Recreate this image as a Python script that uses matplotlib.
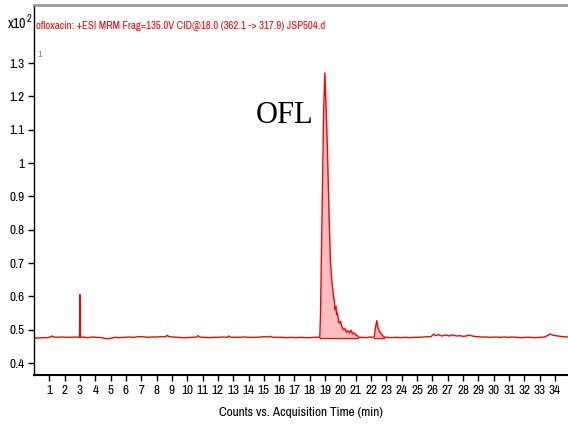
import matplotlib
matplotlib.use("Agg")
import matplotlib.pyplot as plt
import numpy as np

# retention time (min) and counts (x10^2)
time_min = [
    0.0, 0.3, 0.6, 0.9, 1.1, 1.2, 1.3, 1.5, 1.8, 2.1, 2.4, 2.7, 2.97, 3.0, 3.03,
    3.2, 3.5, 3.8, 4.1, 4.4, 4.7, 5.0, 5.3, 5.6, 5.9, 6.2, 6.5, 6.8, 7.1, 7.4,
    7.7, 8.0, 8.3, 8.6, 8.7, 8.8, 9.1, 9.4, 9.7, 10.0, 10.3, 10.6, 10.7, 10.8,
    11.1, 11.4, 11.7, 12.0, 12.3, 12.6, 12.7, 12.8, 13.1, 13.4, 13.7, 14.0, 14.3,
    14.6, 14.8, 15.0, 15.3, 15.4, 15.6, 15.9, 16.2, 16.5, 16.8, 17.1, 17.4, 17.7,
    18.0, 18.3, 18.6, 18.65, 18.7, 18.8, 18.9, 18.98, 19.05, 19.15, 19.25, 19.35,
    19.45, 19.55, 19.6, 19.65, 19.7, 19.75, 19.8, 19.9, 20.0, 20.1, 20.2, 20.3,
    20.4, 20.5, 20.6, 20.7, 20.8, 20.9, 21.0, 21.1, 21.2, 21.4, 21.7, 21.9, 22.1,
    22.2, 22.3, 22.37, 22.45, 22.55, 22.7, 22.85, 23.0, 23.3, 23.6, 23.9, 24.2,
    24.5, 24.8, 25.1, 25.4, 25.7, 25.9, 26.1, 26.2, 26.4, 26.6, 26.9, 27.1, 27.3,
    27.6, 27.8, 28.0, 28.2, 28.4, 28.6, 28.9, 29.2, 29.5, 29.8, 30.1, 30.4, 30.7,
    31.0, 31.2, 31.5, 31.8, 32.1, 32.4, 32.7, 33.0, 33.3, 33.5, 33.7, 33.9, 34.2,
    34.5, 34.85,
]
counts = [
    0.475, 0.475, 0.476, 0.476, 0.479, 0.481, 0.478, 0.477, 0.478, 0.477, 0.477, 0.478, 0.477, 0.605, 0.477,
    0.478, 0.476, 0.478, 0.477, 0.476, 0.473, 0.474, 0.477, 0.476, 0.477, 0.478, 0.477, 0.479, 0.479, 0.477,
    0.478, 0.478, 0.479, 0.479, 0.483, 0.479, 0.478, 0.477, 0.476, 0.476, 0.477, 0.478, 0.482, 0.478,
    0.477, 0.476, 0.477, 0.477, 0.478, 0.477, 0.481, 0.478, 0.477, 0.477, 0.478, 0.477, 0.477,
    0.477, 0.478, 0.479, 0.478, 0.480, 0.477, 0.477, 0.477, 0.476, 0.477, 0.476, 0.477, 0.476,
    0.476, 0.477, 0.477, 0.476, 0.55, 0.85, 1.15, 1.27, 1.18, 1.04, 0.85, 0.70,
    0.64, 0.60, 0.585, 0.56, 0.57, 0.545, 0.55, 0.52, 0.525, 0.508, 0.50, 0.503,
    0.492, 0.497, 0.49, 0.498, 0.487, 0.49, 0.484, 0.482, 0.477, 0.477, 0.476, 0.478, 0.477,
    0.478, 0.51, 0.527, 0.505, 0.495, 0.485, 0.478, 0.477, 0.476, 0.477, 0.476, 0.477,
    0.476, 0.477, 0.477, 0.478, 0.479, 0.479, 0.487, 0.482, 0.485, 0.481, 0.484, 0.481, 0.484,
    0.481, 0.482, 0.480, 0.481, 0.484, 0.481, 0.479, 0.478, 0.478, 0.477, 0.478, 0.477, 0.478,
    0.477, 0.478, 0.477, 0.476, 0.477, 0.477, 0.476, 0.477, 0.478, 0.482, 0.487, 0.483, 0.481,
    0.479, 0.478,
]
peaks = [(18.65, 21.15), (22.2, 22.85)]
integ_base = 0.476
x_ticks = list(range(1, 35))
y_ticks = [0.4, 0.5, 0.6, 0.7, 0.8, 0.9, 1.0, 1.1, 1.2, 1.3]

narrow = ['Archivo Narrow', 'PT Sans Narrow', 'Liberation Sans', 'DejaVu Sans']
t = np.array(time_min)
c = np.array(counts)

fig = plt.figure(figsize=(5.68, 4.3), dpi=100)
ax = fig.add_axes([34 / 568, 55 / 430, 534 / 568, 370 / 430])

# integrated peaks
for start, end in peaks:
    m = (t >= start) & (t <= end)
    ax.fill_between(t[m], c[m], integ_base, color='#ffb8b8', alpha=0.9, lw=0)
    ax.plot([start, end], [integ_base, integ_base], color='red', lw=0.9)

ax.plot(t, c, color='red', lw=1.0)

ax.set_xlim(0, 34.85)
ax.set_ylim(0.364, 1.474)
ax.set_xticks(x_ticks)
ax.set_yticks(y_ticks)
ax.set_xticklabels([str(v) for v in x_ticks], family=narrow, fontsize=9.5)
ax.set_yticklabels([f'{v:g}' for v in y_ticks], family=narrow, fontsize=9.5)
ax.tick_params(direction='out', length=4, width=1, pad=3)

ax.spines['right'].set_visible(False)
ax.spines['top'].set_color('#999999')
ax.spines['top'].set_linewidth(2)
ax.spines['left'].set_linewidth(1)
ax.spines['bottom'].set_linewidth(1.5)

ax.set_xlabel('Counts vs. Acquisition Time (min)', family=narrow, fontsize=9.5, labelpad=8)

ax.text(0.004, 0.958, 'ofloxacin: +ESI MRM Frag=135.0V CID@18.0 (362.1 -> 317.9) JSP504.d',
        transform=ax.transAxes, color='red', family=narrow, fontsize=7.8, va='top', ha='left')
ax.text(0.006, 0.878, '1', transform=ax.transAxes, color='gray', family=narrow,
        fontsize=7, va='top', ha='left')
fig.text(8 / 568, 1 - 28 / 430, 'x10', family=narrow, fontsize=10, va='baseline')
fig.text(26.5 / 568, 1 - 22 / 430, '2', family=narrow, fontsize=7.5, va='baseline')

ax.text(14.5, 1.12, 'OFL', family=['Liberation Serif', 'DejaVu Serif'], fontsize=22,
        ha='left', va='baseline')

fig.savefig('out.png', dpi=100)
